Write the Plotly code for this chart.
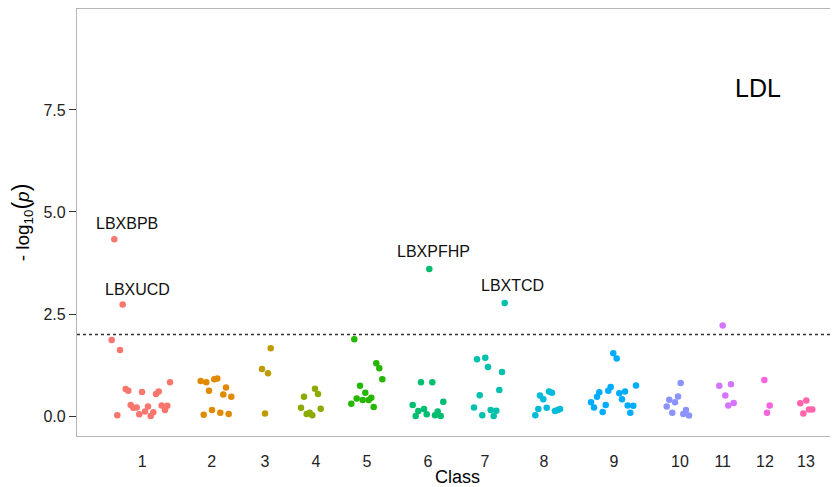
import plotly.graph_objects as go

# ---- data (position along cumulative x index, -log10 p) ----
class_names = ["1", "2", "3", "4", "5", "6", "7", "8", "9", "10", "11", "12", "13"]
class_centers = [65.3, 134.7, 188, 239, 290, 351, 408, 467, 537, 603, 645.7, 688, 729]
class_colors = ["#F8766D", "#E18A00", "#BE9C00", "#8CAB00", "#24B700", "#00BE70", "#00C1AB",
                "#00BBDA", "#00ACFC", "#8B93FF", "#D575FE", "#F962DD", "#FF65AC"]

x1 = [37.3, 45.7, 34.7, 43, 48.7, 51.3, 65, 79, 81.7, 93, 40.3, 53.7, 56.3, 59.7, 62.3, 68, 71, 73.7, 76.3, 84.7, 88, 90.3]
y1 = [4.33, 2.73, 1.86, 1.62, 0.66, 0.62, 0.59, 0.54, 0.60, 0.83, 0.02, 0.27, 0.20, 0.21, 0.04, 0.11, 0.23, 0.00, 0.09, 0.26, 0.15, 0.25]
x2 = [123.7, 129.3, 137.3, 140.3, 132, 149, 146.3, 154.3, 126.7, 135, 143.3, 151.7]
y2 = [0.86, 0.83, 0.90, 0.92, 0.62, 0.70, 0.53, 0.47, 0.03, 0.15, 0.08, 0.05]
x3 = [193.7, 185, 191, 188]
y3 = [1.66, 1.15, 1.05, 0.06]
x4 = [238, 241, 227, 224, 243.7, 229.7, 232.7, 235.3]
y4 = [0.67, 0.54, 0.47, 0.20, 0.18, 0.05, 0.08, 0.02]
x5 = [277.3, 299.3, 302.3, 305.3, 283, 288.3, 279.7, 285.7, 291.7, 294.3, 274.3, 296.7]
y5 = [1.88, 1.29, 1.17, 0.90, 0.74, 0.57, 0.43, 0.39, 0.39, 0.45, 0.30, 0.22]
x6 = [352.3, 344, 355.3, 366.3, 335.7, 341.3, 347, 338.7, 349.7, 358, 360.7, 363.7]
y6 = [3.60, 0.83, 0.83, 0.35, 0.27, 0.12, 0.17, 0.00, 0.04, 0.02, 0.11, 0.00]
x7 = [427.7, 400, 408.3, 411, 425, 422.3, 402.7, 397, 413.7, 419.3, 405.3, 416.7]
y7 = [2.77, 1.39, 1.43, 1.20, 1.08, 0.64, 0.51, 0.21, 0.15, 0.13, 0.02, 0.00]
x8 = [472, 475, 463, 466.3, 461.3, 469.7, 478, 483, 458.3, 480.7]
y8 = [0.60, 0.57, 0.50, 0.41, 0.17, 0.20, 0.12, 0.17, 0.02, 0.15]
x9 = [536.3, 539.7, 559, 533.7, 531.3, 522.3, 520, 542.3, 548, 545, 514, 517, 528.7, 550.7, 556.3, 525.7, 553.3]
y9 = [1.54, 1.41, 0.75, 0.71, 0.62, 0.58, 0.47, 0.56, 0.60, 0.41, 0.34, 0.21, 0.27, 0.26, 0.25, 0.10, 0.08]
x10 = [603.7, 601, 592.3, 598, 589.7, 609, 595.3, 606.3, 612]
y10 = [0.81, 0.48, 0.40, 0.34, 0.23, 0.15, 0.08, 0.05, 0.01]
x11 = [645.7, 642.3, 654, 648.3, 651.3, 656.7]
y11 = [2.22, 0.74, 0.78, 0.50, 0.26, 0.32]
x12 = [687.3, 692.7, 690]
y12 = [0.88, 0.26, 0.08]
x13 = [723.3, 729.3, 726.3, 732, 735.3]
y13 = [0.31, 0.38, 0.06, 0.16, 0.16]

xs = [x1, x2, x3, x4, x5, x6, x7, x8, x9, x10, x11, x12, x13]
ys = [y1, y2, y3, y4, y5, y6, y7, y8, y9, y10, y11, y12, y13]

# labelled hits: (class index, point index, label, label offset)
label_names = ["LBXBPB", "LBXUCD", "LBXPFHP", "LBXTCD"]
label_class = [0, 0, 5, 6]
label_point = [0, 1, 0, 0]
label_dx = [12.7, 14.3, 4.4, 7.8]
label_dy = [0.40, 0.38, 0.43, 0.44]

threshold = 2.0
panel_title = "LDL"

FONT = "Liberation Sans, Arial, Helvetica, sans-serif"

fig = go.Figure()
for name, col, xv, yv in zip(class_names, class_colors, xs, ys):
    fig.add_trace(go.Scatter(
        x=xv, y=yv, mode="markers", name=name,
        marker=dict(color=col, size=6.5, line=dict(width=0)),
        showlegend=False,
    ))

for nm, ci, pi, dx, dy in zip(label_names, label_class, label_point, label_dx, label_dy):
    fig.add_annotation(x=xs[ci][pi] + dx, y=ys[ci][pi] + dy, text=nm, showarrow=False,
                       xanchor="center", yanchor="middle",
                       font=dict(family=FONT, size=16, color="#111111"))

fig.add_shape(type="line", xref="paper", x0=0, x1=1, yref="y", y0=threshold, y1=threshold,
              line=dict(color="#333333", width=1.5, dash="dot"))

fig.add_annotation(xref="paper", yref="paper", x=0.895, y=0.815, text=panel_title,
                   xanchor="center", yanchor="middle",
                   showarrow=False, font=dict(family=FONT, size=25, color="#000000"))

# page body has an 8px margin, so the figure is sized to fit the window
fig.update_layout(
    width=830, height=479,
    margin=dict(l=69, r=0, t=1, b=51, autoexpand=False),
    paper_bgcolor="white", plot_bgcolor="white",
    font=dict(family=FONT, color="#222222"),
)
fig.update_xaxes(
    range=[0, 761], tickmode="array", tickvals=class_centers, ticktext=class_names,
    showgrid=False, zeroline=False, showline=True, linecolor="#b5b5b5", linewidth=1.2,
    mirror=True, ticks="", ticklabelstandoff=11, automargin=False,
    tickfont=dict(size=16, color="#222222"),
    title=dict(text="Class", font=dict(size=18, color="#000000"), standoff=1),
)
fig.update_yaxes(
    range=[-0.49, 9.975], tickmode="array", tickvals=[0, 2.5, 5, 7.5],
    ticktext=["0.0", "2.5", "5.0", "7.5"], automargin=False,
    showgrid=False, zeroline=False, showline=True, linecolor="#b5b5b5", linewidth=1.2,
    ticks="outside", ticklen=7, tickcolor="#333333", tickwidth=1.2,
    tickfont=dict(size=16, color="#222222"),
    title=dict(text="- log<sub>10</sub><span style='font-size:23px'>(</span><i>p</i><span style='font-size:23px'>)</span>",
               font=dict(size=19, color="#000000"), standoff=10),
)

fig.write_html("out.html")
